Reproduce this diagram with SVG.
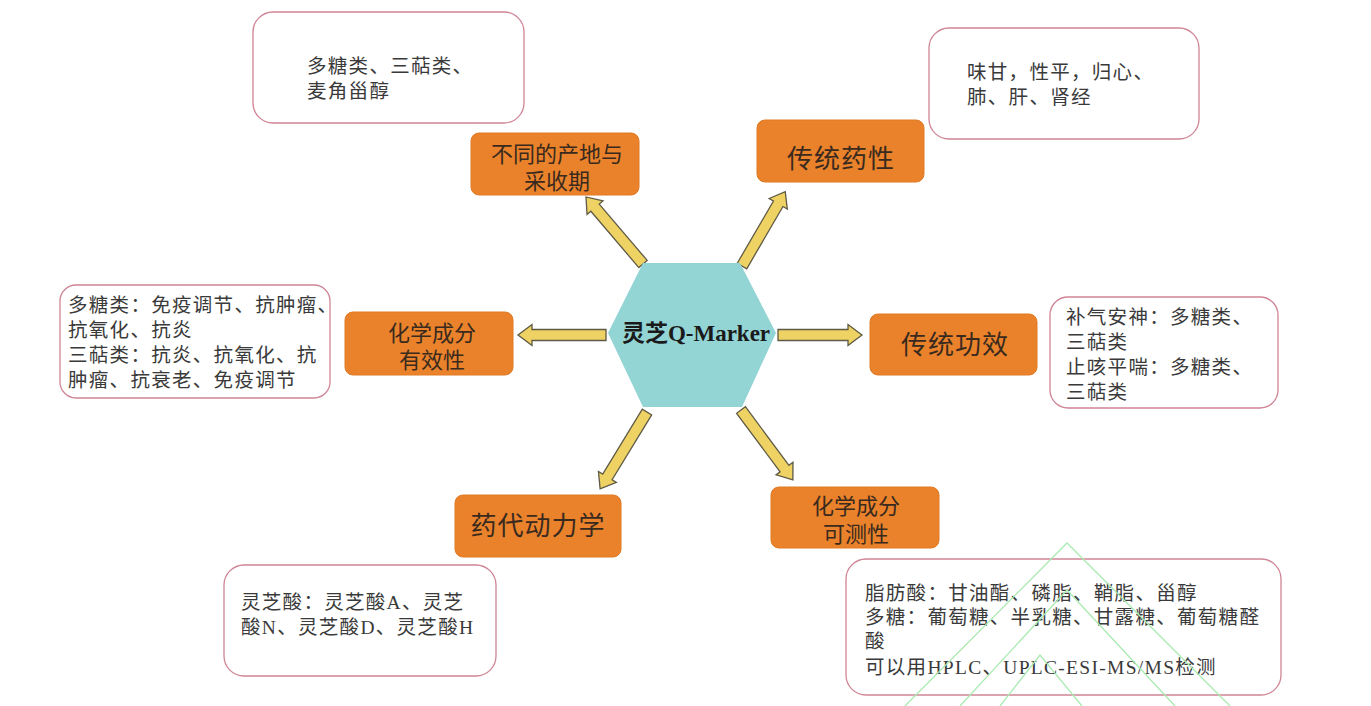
<svg xmlns="http://www.w3.org/2000/svg" width="1371" height="706" viewBox="0 0 1371 706">
<style>
.bg{fill:#ffffff}
.wm{fill:none;stroke:#a9eab0;stroke-width:1.3}
.ob{fill:#e9822b;stroke:#e07a25;stroke-width:1}
.ot{font-family:"Liberation Sans","Noto Sans CJK SC",sans-serif;fill:#3a2a1e;text-anchor:middle}
.wb{fill:#ffffff;stroke:#cf8595;stroke-width:1.3}
.wt{font-family:"Liberation Serif","Noto Sans CJK SC",serif;font-size:19.5px;fill:#3a3a3a;letter-spacing:1.3px}
.hex{fill:#93d4d5}
.ht{font-family:"Liberation Serif","Noto Sans CJK SC",serif;font-size:23px;font-weight:bold;fill:#1a1a1a;text-anchor:middle}
.ar{fill:#eed264;stroke:#5e5a45;stroke-width:1.3;stroke-linejoin:miter}
</style>
<rect class="bg" x="0" y="0" width="1371" height="706"/>
<g id="connectors">
<path class="ar" transform="translate(643,264) rotate(-130.4)" d="M0,-5.5 H74 V-10.5 L88,0 L74,10.5 V5.5 H0 Z"/>
<path class="ar" transform="translate(742,266) rotate(-59.8)" d="M0,-5.5 H72 V-10.5 L86,0 L72,10.5 V5.5 H0 Z"/>
<path class="ar" transform="translate(606,335) rotate(180)" d="M0,-5.5 H74 V-10.5 L88,0 L74,10.5 V5.5 H0 Z"/>
<path class="ar" transform="translate(778,335)" d="M0,-5.5 H70 V-10.5 L84,0 L70,10.5 V5.5 H0 Z"/>
<path class="ar" transform="translate(647,412) rotate(121.4)" d="M0,-5.5 H76 V-10.5 L90,0 L76,10.5 V5.5 H0 Z"/>
<path class="ar" transform="translate(741,410) rotate(53.4)" d="M0,-5.5 H73 V-10.5 L87,0 L73,10.5 V5.5 H0 Z"/>
</g>
<g id="center">
<polygon class="hex" points="643,263 740,263 776,333 742,407 643,407 608,333"/>
<text class="ht" x="696" y="341">灵芝Q-Marker</text>
</g>
<g id="node-origin">
<rect class="ob" x="471" y="133" width="168" height="62" rx="8"/>
<text class="ot" x="557" y="162" font-size="22">不同的产地与</text>
<text class="ot" x="557" y="189" font-size="22">采收期</text>
</g>
<g id="node-origin-note">
<rect class="wb" x="253" y="12" width="271" height="111" rx="20"/>
<text class="wt" x="307" y="73">多糖类、三萜类、</text>
<text class="wt" x="307" y="98">麦角甾醇</text>
</g>
<g id="node-property">
<rect class="ob" x="757" y="120" width="167" height="62" rx="8"/>
<text class="ot" x="841" y="168" font-size="26" letter-spacing="1">传统药性</text>
</g>
<g id="node-property-note">
<rect class="wb" x="929" y="28" width="270" height="111" rx="20"/>
<text class="wt" x="967" y="79">味甘，性平，归心、</text>
<text class="wt" x="967" y="104">肺、肝、肾经</text>
</g>
<g id="node-efficacy">
<rect class="ob" x="345" y="312" width="168" height="63" rx="8"/>
<text class="ot" x="432" y="341" font-size="22">化学成分</text>
<text class="ot" x="432" y="368" font-size="22">有效性</text>
</g>
<g id="node-efficacy-note">
<rect class="wb" x="60" y="285" width="270" height="113" rx="16"/>
<text class="wt" x="68" y="312">多糖类：免疫调节、抗肿瘤、</text>
<text class="wt" x="68" y="337">抗氧化、抗炎</text>
<text class="wt" x="68" y="362">三萜类：抗炎、抗氧化、抗</text>
<text class="wt" x="68" y="387">肿瘤、抗衰老、免疫调节</text>
</g>
<g id="node-function">
<rect class="ob" x="870" y="314" width="167" height="61" rx="8"/>
<text class="ot" x="955" y="354" font-size="26" letter-spacing="1">传统功效</text>
</g>
<g id="node-function-note">
<rect class="wb" x="1050" y="297" width="228" height="111" rx="18"/>
<text class="wt" x="1066" y="324">补气安神：多糖类、</text>
<text class="wt" x="1066" y="349">三萜类</text>
<text class="wt" x="1066" y="374">止咳平喘：多糖类、</text>
<text class="wt" x="1066" y="399">三萜类</text>
</g>
<g id="node-pk">
<rect class="ob" x="455" y="495" width="166" height="62" rx="8"/>
<text class="ot" x="538" y="535" font-size="26" letter-spacing="1">药代动力学</text>
</g>
<g id="node-pk-note">
<rect class="wb" x="224" y="565" width="272" height="111" rx="20"/>
<text class="wt" x="241" y="609">灵芝酸：灵芝酸A、灵芝</text>
<text class="wt" x="241" y="634">酸N、灵芝酸D、灵芝酸H</text>
</g>
<g id="node-detect">
<rect class="ob" x="771" y="487" width="168" height="61" rx="8"/>
<text class="ot" x="856" y="514" font-size="22">化学成分</text>
<text class="ot" x="856" y="542" font-size="22">可测性</text>
</g>
<g id="node-detect-note">
<rect class="wb" x="846" y="559" width="435" height="136" rx="20"/>
<text class="wt" x="865" y="600" letter-spacing="2.2">脂肪酸：甘油酯、磷脂、鞘脂、甾醇</text>
<text class="wt" x="865" y="624" letter-spacing="2.2">多糖：葡萄糖、半乳糖、甘露糖、葡萄糖醛</text>
<text class="wt" x="865" y="648">酸</text>
<text class="wt" x="865" y="674">可以用HPLC、UPLC-ESI-MS/MS检测</text>
</g>
<g id="watermark">
<polyline class="wm" points="905,706 1067,543 1230,706"/>
<polyline class="wm" points="960,706 1067,590 1175,706"/>
<polyline class="wm" points="1000,706 1040,655 1082,706"/>
</g>
</svg>
